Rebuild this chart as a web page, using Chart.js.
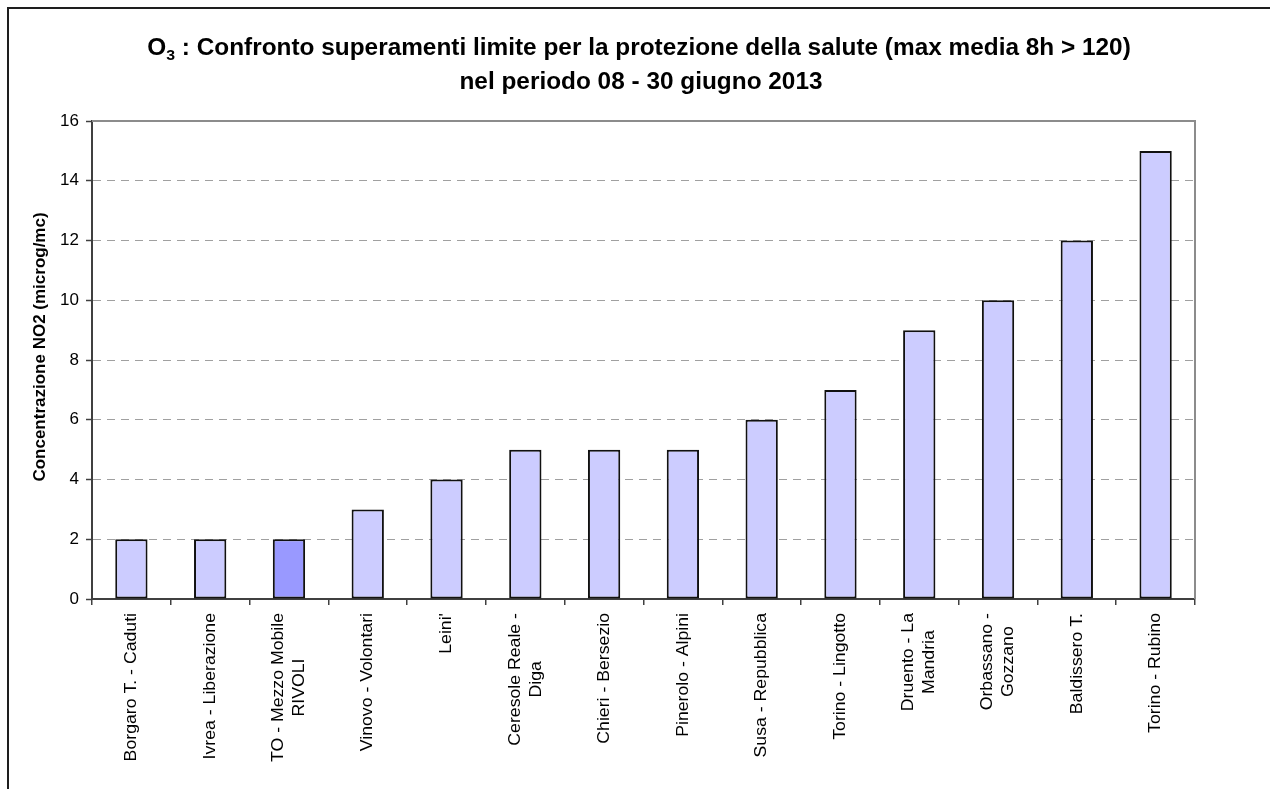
<!DOCTYPE html>
<html>
<head>
<meta charset="utf-8">
<script src="https://cdn.jsdelivr.net/npm/chart.js@4.4.1/dist/chart.umd.min.js"></script>
<style>
html,body{margin:0;padding:0;background:#fff;overflow:hidden}
#wrap{position:relative;width:1270px;height:789px}
</style>
</head>
<body>
<div id="wrap"><canvas id="c" width="1270" height="789"></canvas></div>
<script>
// ---- data ----
const categories = [
  'Borgaro T. - Caduti',
  'Ivrea - Liberazione',
  ['TO - Mezzo Mobile', 'RIVOLI'],
  'Vinovo - Volontari',
  "Leini'",
  ['Ceresole Reale -', 'Diga'],
  'Chieri - Bersezio',
  'Pinerolo - Alpini',
  'Susa - Repubblica',
  'Torino - Lingotto',
  ['Druento - La', 'Mandria'],
  ['Orbassano -', 'Gozzano'],
  'Baldissero T.',
  'Torino - Rubino'
];
const exceedances = [2, 2, 2, 3, 4, 5, 5, 5, 6, 7, 9, 10, 12, 15];
const highlightedCategory = 2; // mobile station (TO - Mezzo Mobile RIVOLI)
const yTickValues = [0, 2, 4, 6, 8, 10, 12, 14, 16];
const titleFormula = ['O', '3'];
const titleLine1 = ' : Confronto superamenti limite per la protezione della salute (max media 8h > 120)';
const titleLine2 = 'nel periodo 08 - 30 giugno 2013';
const yAxisTitle = 'Concentrazione NO2 (microg/mc)';

const FONT = '"Liberation Sans", Arial, sans-serif';

const framePlugin = {
  id: 'frame',
  beforeDraw(chart) {
    const ctx = chart.ctx;
    ctx.save();
    ctx.fillStyle = '#fff';
    ctx.fillRect(0, 0, chart.width, chart.height);
    ctx.strokeStyle = '#1e1e1e';
    ctx.lineWidth = 2;
    ctx.beginPath();
    ctx.moveTo(8, chart.height + 5);
    ctx.lineTo(8, 8);
    ctx.lineTo(chart.width + 5, 8);
    ctx.stroke();
    ctx.restore();
  },
  beforeDatasetsDraw(chart) {
    const a = chart.chartArea, ctx = chart.ctx;
    ctx.save();
    ctx.strokeStyle = '#8c8c8c';
    ctx.lineWidth = 2;
    ctx.beginPath();
    ctx.moveTo(a.left, a.top);
    ctx.lineTo(a.right, a.top);
    ctx.lineTo(a.right, a.bottom);
    ctx.stroke();
    ctx.restore();
  }
};

const titlePlugin = {
  id: 'subTitle',
  afterDraw(chart) {
    const ctx = chart.ctx;
    const sx = 1.06;
    const big = 'bold 23px ' + FONT, small = 'bold 15px ' + FONT;
    const cx = 639;
    ctx.save();
    ctx.fillStyle = '#000';
    ctx.textBaseline = 'alphabetic';
    ctx.textAlign = 'left';
    ctx.font = big;
    const wO = ctx.measureText(titleFormula[0]).width;
    const wR = ctx.measureText(titleLine1).width;
    ctx.font = small;
    const w3 = ctx.measureText(titleFormula[1]).width;
    const total = (wO + w3 + wR) * sx;
    ctx.translate(cx - total / 2, 55);
    ctx.scale(sx, 1);
    ctx.font = big;
    ctx.fillText(titleFormula[0], 0, 0);
    ctx.font = small;
    ctx.fillText(titleFormula[1], wO, 5);
    ctx.font = big;
    ctx.fillText(titleLine1, wO + w3, 0);
    ctx.restore();

    ctx.save();
    ctx.fillStyle = '#000';
    ctx.font = big;
    ctx.textBaseline = 'alphabetic';
    ctx.textAlign = 'center';
    ctx.translate(641, 89);
    ctx.scale(sx, 1);
    ctx.fillText(titleLine2, 0, 0);
    ctx.restore();

    // y axis title
    const ys = chart.scales.y;
    ctx.save();
    ctx.fillStyle = '#000';
    ctx.font = 'bold 17px ' + FONT;
    ctx.textAlign = 'center';
    ctx.textBaseline = 'middle';
    ctx.translate(40, (ys.top + ys.bottom) / 2 - 13);
    ctx.rotate(-Math.PI / 2);
    ctx.fillText(yAxisTitle, 0, 0);
    ctx.restore();
  }
};

const xLabelPlugin = {
  id: 'xLabels',
  afterDraw(chart) {
    const ctx = chart.ctx, xs = chart.scales.x;
    const stretch = 1.04, lh = 21, top0 = xs.top + 14;
    ctx.save();
    ctx.fillStyle = '#000';
    ctx.font = '17px ' + FONT;
    ctx.textAlign = 'center';
    ctx.textBaseline = 'middle';
    chart.data.labels.forEach((lab, i) => {
      const lines = Array.isArray(lab) ? lab : [lab];
      const W = Math.max(...lines.map(l => ctx.measureText(l).width)) * stretch;
      const cx = xs.getPixelForValue(i);
      ctx.save();
      ctx.translate(cx, top0 + W / 2);
      ctx.rotate(-Math.PI / 2);
      ctx.scale(stretch, 1);
      lines.forEach((l, j) => ctx.fillText(l, 0, (j - (lines.length - 1) / 2) * lh));
      ctx.restore();
    });
    ctx.restore();
  }
};

new Chart(document.getElementById('c'), {
  type: 'bar',
  data: {
    labels: categories,
    datasets: [{
      data: exceedances,
      backgroundColor: c => c.dataIndex === highlightedCategory ? '#9999ff' : '#ccccff',
      borderColor: '#111',
      borderWidth: 2,
      borderSkipped: false,
      inflateAmount: 0,
      barPercentage: 0.41,
      categoryPercentage: 1
    }]
  },
  options: {
    responsive: false,
    animation: false,
    devicePixelRatio: 1,
    layout: { padding: { top: 121, right: 75, left: 0, bottom: 0 } },
    plugins: { legend: { display: false }, title: { display: false }, tooltip: { enabled: false } },
    scales: {
      x: {
        offset: true,
        grid: { offset: true, drawOnChartArea: false, drawTicks: true, tickLength: 6, color: '#404040', lineWidth: 1.5 },
        border: { color: '#404040', width: 2 },
        ticks: { display: false },
        afterFit: s => { s.height = 190; }
      },
      y: {
        min: yTickValues[0],
        max: yTickValues[yTickValues.length - 1],
        afterBuildTicks: s => { s.ticks = yTickValues.map(v => ({ value: v })); },
        ticks: { color: '#000', font: { family: FONT, size: 17 }, padding: 7 },
        grid: { color: '#a0a0a0', lineWidth: 1, tickLength: 6, tickColor: '#404040', tickWidth: 1.5, tickBorderDash: [] },
        border: { dash: [8, 6], color: '#404040', width: 2 },
        title: { display: false },
        afterFit: s => { s.width = 92; }
      }
    }
  },
  plugins: [framePlugin, titlePlugin, xLabelPlugin]
});
</script>
</body>
</html>
